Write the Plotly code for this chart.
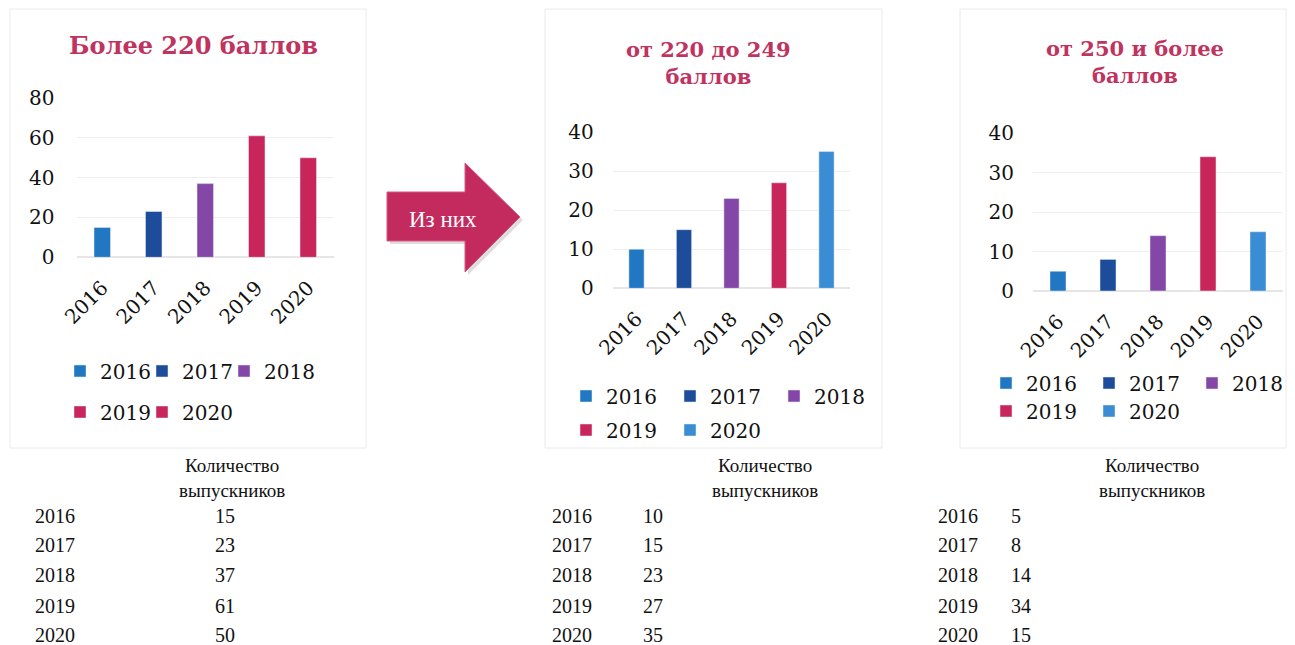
import plotly.graph_objects as go

# ---------------- data ----------------
years = ["2016", "2017", "2018", "2019", "2020"]
total_over_220 = [15, 23, 37, 61, 50]
from_220_to_249 = [10, 15, 23, 27, 35]
from_250_up = [5, 8, 14, 34, 15]

chart_titles = ["Более 220 баллов", "от 220 до 249<br>баллов", "от 250 и более<br>баллов"]
table_header = "Количество<br>выпускников"
arrow_label = "Из них"

colors_chart1 = ["#2177C2", "#1D4C9A", "#8447A8", "#C8265A", "#C8265A"]
colors_chart23 = ["#2177C2", "#1D4C9A", "#8447A8", "#C8265A", "#3A8DD4"]

W, H = 1295, 645
# the page body adds an 8px margin; compensate so that layout matches the window
OX, OY = 8, 8


def px(x):
    return (x - OX) / W


def py(y):
    return 1 - (y - OY) / H


SERIF = "DejaVu Serif"
TIMES = "Liberation Serif"
TITLE_COLOR = "#C0335F"

fig = go.Figure()

charts = [
    dict(vals=total_over_220, colors=colors_chart1, ax="x", ay="y", legs=("legend", "legend2"), ew=37),
    dict(vals=from_220_to_249, colors=colors_chart23, ax="x2", ay="y2", legs=("legend3", "legend4"), ew=59),
    dict(vals=from_250_up, colors=colors_chart23, ax="x3", ay="y3", legs=("legend5", "legend6"), ew=58),
]

for c in charts:
    for i, (yr, v) in enumerate(zip(years, c["vals"])):
        last_in_row = i in (2, 4)
        fig.add_trace(go.Bar(
            x=[yr], y=[v], name=yr, marker_color=c["colors"][i],
            width=0.32, xaxis=c["ax"], yaxis=c["ay"],
            legend=c["legs"][0] if i < 3 else c["legs"][1],
            legendwidth=58 if last_in_row else c["ew"],
            hovertemplate="%{x}: %{y}<extra></extra>",
        ))

tickfont = dict(family=SERIF, size=20, color="#111111")
grid = "#EEEEEE"

xcommon = dict(type="category", showgrid=False, showline=False, zeroline=False,
               tickangle=-45, tickfont=tickfont, ticks="", ticklabelstandoff=14,
               automargin=False, fixedrange=True)
ycommon = dict(showgrid=True, gridcolor=grid, showline=False, zeroline=True,
               zerolinecolor="#E6E6E6", tickfont=tickfont, ticks="",
               automargin=False, fixedrange=True)

fig.update_layout(
    width=W, height=H,
    margin=dict(l=0, r=0, t=0, b=0, pad=0, autoexpand=False),
    paper_bgcolor="white", plot_bgcolor="white",
    barmode="overlay",
    showlegend=True,
    xaxis=dict(domain=[px(76.5), px(334)], anchor="y", **xcommon),
    yaxis=dict(domain=[py(257.3), py(98)], range=[0, 80], dtick=20, anchor="x",
               ticklabelstandoff=21, **ycommon),
    xaxis2=dict(domain=[px(612.75), px(850.25)], anchor="y2", **xcommon),
    yaxis2=dict(domain=[py(288.3), py(132)], range=[0, 40], dtick=10, anchor="x2",
                ticklabelstandoff=18, **ycommon),
    xaxis3=dict(domain=[px(1033), px(1283)], anchor="y3", **xcommon),
    yaxis3=dict(domain=[py(291), py(133)], range=[0, 40], dtick=10, anchor="x3",
                ticklabelstandoff=18, **ycommon),
)

legfont = dict(family=SERIF, size=20, color="#111111")


def leg(x, y):
    return dict(orientation="h", x=px(x), y=py(y), xanchor="left", yanchor="middle",
                font=legfont, entrywidthmode="pixels",
                bgcolor="rgba(0,0,0,0)", itemclick=False, itemdoubleclick=False)


fig.update_layout(
    legend=leg(60, 371),
    legend2=leg(60, 412),
    legend3=leg(566, 396),
    legend4=leg(566, 430),
    legend5=leg(986, 383),
    legend6=leg(986, 411),
)

shapes = []
# chart area borders
for x0, x1 in [(10, 366), (545, 882), (960, 1286)]:
    shapes.append(dict(type="rect", xref="paper", yref="paper",
                       x0=px(x0), x1=px(x1), y0=py(448), y1=py(9),
                       line=dict(color="#EAEAEA", width=1), fillcolor="rgba(0,0,0,0)", layer="below"))

# arrow
arrow_pts = [(387, 192), (465, 192), (465, 163), (520, 217), (465, 272), (465, 241), (387, 241)]


def path_from(pts, dx=0, dy=0):
    return "M " + " L ".join(f"{px(x + dx):.5f},{py(y + dy):.5f}" for x, y in pts) + " Z"


shapes.append(dict(type="path", xref="paper", yref="paper", path=path_from(arrow_pts, 3, 3),
                   fillcolor="rgba(120,120,120,0.25)", line=dict(width=0)))
shapes.append(dict(type="path", xref="paper", yref="paper", path=path_from(arrow_pts),
                   fillcolor="#C32A5E", line=dict(color="#D65A83", width=1)))
fig.update_layout(shapes=shapes)

ann = []
# titles
for t, (cx, cy), fs in zip(chart_titles, [(193, 45), (708, 63), (1135, 62)], [24, 21, 21]):
    ann.append(dict(text=f"<b>{t}</b>", x=px(cx), y=py(cy), xref="paper", yref="paper",
                    xanchor="center", yanchor="middle", showarrow=False,
                    font=dict(family=SERIF, size=fs, color=TITLE_COLOR)))
# arrow label
ann.append(dict(text=arrow_label, x=px(443), y=py(219), xref="paper", yref="paper",
                xanchor="center", yanchor="middle", showarrow=False,
                font=dict(family=TIMES, size=23, color="white")))

# tables
row_y = [516, 545, 575, 606, 635]
tables = [
    dict(vals=total_over_220, year_x=55, val_x=225, val_anchor="center", head_x=232),
    dict(vals=from_220_to_249, year_x=572, val_x=653, val_anchor="center", head_x=765),
    dict(vals=from_250_up, year_x=958, val_x=1009, val_anchor="left", head_x=1152),
]
tfont = dict(family=TIMES, size=20, color="#111111")
for tb in tables:
    ann.append(dict(text=table_header, x=px(tb["head_x"]), y=py(478), xref="paper", yref="paper",
                    xanchor="center", yanchor="middle", showarrow=False,
                    font=dict(family=TIMES, size=19, color="#111111")))
    for yr, v, ry in zip(years, tb["vals"], row_y):
        ann.append(dict(text=yr, x=px(tb["year_x"]), y=py(ry), xref="paper", yref="paper",
                        xanchor="center", yanchor="middle", showarrow=False, font=tfont))
        ann.append(dict(text=str(v), x=px(tb["val_x"]), y=py(ry), xref="paper", yref="paper",
                        xanchor=tb["val_anchor"], yanchor="middle", showarrow=False, font=tfont))
fig.update_layout(annotations=ann)

fig.write_html("out.html")
